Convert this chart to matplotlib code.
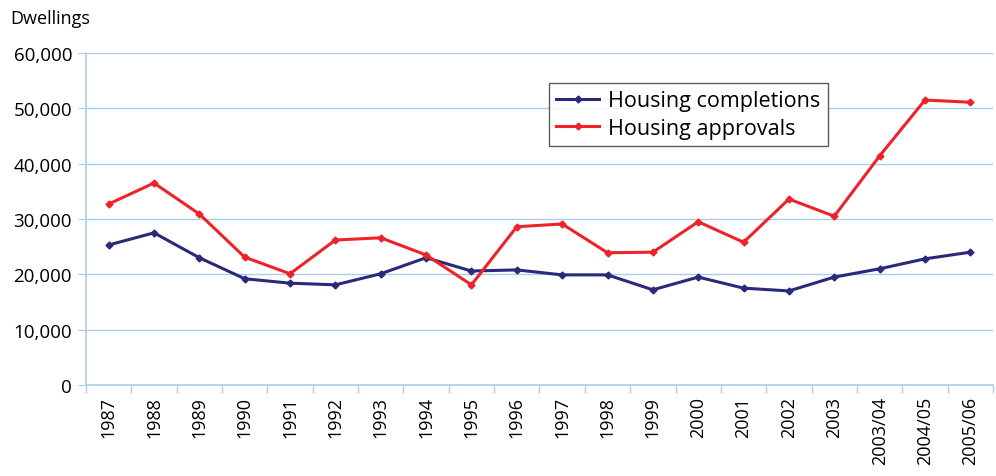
import matplotlib.pyplot as plt
import numpy as np
from matplotlib.ticker import FuncFormatter

plt.rcParams['font.family'] = ['Open Sans', 'DejaVu Sans']

years = ['1987', '1988', '1989', '1990', '1991', '1992', '1993', '1994', '1995', '1996',
         '1997', '1998', '1999', '2000', '2001', '2002', '2003', '2003/04', '2004/05', '2005/06']
completions = [25300, 27500, 23000, 19200, 18400, 18100, 20100, 23000, 20600, 20800,
               19900, 19900, 17200, 19500, 17500, 17000, 19500, 21000, 22800, 24000]
approvals = [32700, 36500, 30900, 23100, 20100, 26200, 26600, 23500, 18100, 28600,
             29100, 23900, 24000, 29500, 25800, 33600, 30500, 41400, 51500, 51100]

grid_col = '#a9cfea'
navy = '#2b2a7a'
red = '#ee2329'

fig = plt.figure(figsize=(9.96, 4.77), dpi=100)
ax = fig.add_axes([0.0863, 0.1908, 0.9107, 0.696])

x = np.arange(len(years))
ax.plot(x, completions, color=navy, lw=2.2, marker='D', ms=3.5, label='Housing completions')
ax.plot(x, approvals, color=red, lw=2.2, marker='D', ms=3.5, label='Housing approvals')

ax.set_xlim(-0.5, len(years) - 0.5)
ax.set_ylim(0, 60000)
ax.set_yticks(np.arange(0, 60001, 10000))
ax.yaxis.set_major_formatter(FuncFormatter(lambda v, p: f'{int(v):,}'))
ax.grid(axis='y', color=grid_col, lw=1)
ax.set_axisbelow(True)

ax.set_xticks(x)
ax.set_xticklabels(years, rotation=90, fontsize=13)
ax.tick_params(axis='x', which='major', length=0, pad=8)
ax.set_xticks(np.arange(-0.5, len(years)), minor=True)
ax.tick_params(axis='x', which='minor', length=6, color=grid_col, width=1)
ax.tick_params(axis='y', labelsize=13.5, length=6, color=grid_col, pad=4)

for s in ['top', 'right']:
    ax.spines[s].set_visible(False)
for s in ['left', 'bottom']:
    ax.spines[s].set_color(grid_col)
    ax.spines[s].set_linewidth(1.2)

fig.text(0.01, 0.96, 'Dwellings', fontsize=13, va='center')

leg = ax.legend(loc='upper left', bbox_to_anchor=(0.51, 0.91), fontsize=15.5,
                frameon=True, fancybox=False, edgecolor='#333333',
                handlelength=2.0, handletextpad=0.4, borderpad=0.35,
                labelspacing=0.3, borderaxespad=0)
leg.get_frame().set_linewidth(1)

fig.savefig('out.png', dpi=100)
